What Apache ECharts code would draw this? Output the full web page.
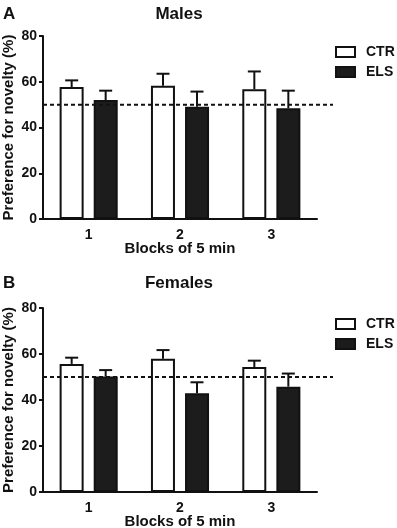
<!DOCTYPE html>
<html><head><meta charset="utf-8">
<script src="https://cdn.jsdelivr.net/npm/echarts@6/dist/echarts.min.js"></script>
<style>html,body{margin:0;padding:0;background:#fff}#c{width:397px;height:528px}</style>
</head><body><div id="c"></div>
<script>
const categories = ['1', '2', '3'];
const yTicks = [0, 20, 40, 60, 80];
const chanceLevel = 50;
// Panel A - Males
const malesCTR = [57.7, 58.3, 56.7];
const malesCTRErr = [2.9, 5.2, 7.8];
const malesELS = [52.0, 49.1, 48.4];
const malesELSErr = [4.1, 6.6, 7.7];
// Panel B - Females
const femalesCTR = [55.7, 57.9, 54.3];
const femalesCTRErr = [2.7, 3.8, 2.8];
const femalesELS = [50.2, 42.9, 45.8];
const femalesELSErr = [2.8, 4.8, 5.7];

const FONT = 'Liberation Sans, Arial, sans-serif';
const chart = echarts.init(document.getElementById('c'), null, {renderer: 'canvas'});

const panels = [
  {top: 36, bottom: 309, title: 'Males', letter: 'A', titleTop: 1, ctr: malesCTR, ctrErr: malesCTRErr, els: malesELS, elsErr: malesELSErr},
  {top: 308, bottom: 36, title: 'Females', letter: 'B', titleTop: 270, ctr: femalesCTR, ctrErr: femalesCTRErr, els: femalesELS, elsErr: femalesELSErr}
];

const grid = [], xAxis = [], yAxis = [], series = [], title = [], legend = [];
const BAR_W = 24, OFFSET = 17;

function errSeries(gi, vals, errs, dir) {
  return {
    type: 'custom', xAxisIndex: gi, yAxisIndex: gi, z: 1, silent: true,
    data: vals.map((v, i) => [i, v, v + errs[i]]),
    renderItem: function (params, api) {
      const base = api.coord([api.value(0), api.value(1)]);
      const top = api.coord([api.value(0), api.value(2)]);
      const x = base[0] + dir * OFFSET;
      return {type: 'group', children: [
        {type: 'line', shape: {x1: x, y1: base[1], x2: x, y2: top[1]}, style: {stroke: '#111', lineWidth: 2}},
        {type: 'line', shape: {x1: x - 6.5, y1: top[1], x2: x + 6.5, y2: top[1]}, style: {stroke: '#111', lineWidth: 2}}
      ]};
    }
  };
}

panels.forEach((p, k) => {
  const gi = k * 2;
  grid.push({left: 43, right: 80, top: p.top, bottom: p.bottom, containLabel: false, outerBoundsMode: 'none'});
  grid.push({left: 43, right: 64, top: p.top, bottom: p.bottom, containLabel: false, outerBoundsMode: 'none'});
  xAxis.push({
    type: 'category', gridIndex: gi, data: categories,
    axisLine: {lineStyle: {color: '#111', width: 2}},
    axisTick: {show: false},
    axisLabel: {color: '#111', fontFamily: FONT, fontWeight: 'bold', fontSize: 14, margin: 9},
    name: 'Blocks of 5 min', nameLocation: 'middle', nameGap: 22, nameMoveOverlap: false,
    nameTextStyle: {color: '#111', fontFamily: FONT, fontWeight: 'bold', fontSize: 15}
  });
  xAxis.push({type: 'value', gridIndex: gi + 1, min: 0, max: 1, show: false});
  yAxis.push({
    type: 'value', gridIndex: gi, min: yTicks[0], max: yTicks[yTicks.length - 1], interval: 20,
    axisLine: {show: true, lineStyle: {color: '#111', width: 2}},
    axisTick: {show: true, length: 4, lineStyle: {color: '#111', width: 2}},
    splitLine: {show: false},
    axisLabel: {color: '#111', fontFamily: FONT, fontWeight: 'bold', fontSize: 14, margin: 6},
    name: 'Preference for novelty (%)', nameLocation: 'middle', nameGap: 27, nameMoveOverlap: false,
    nameTextStyle: {color: '#111', fontFamily: FONT, fontWeight: 'bold', fontSize: 15}
  });
  yAxis.push({type: 'value', gridIndex: gi + 1, min: 0, max: 80, show: false});

  series.push({
    name: 'CTR', type: 'bar', xAxisIndex: gi, yAxisIndex: gi, data: p.ctr, z: 2,
    barWidth: BAR_W, barGap: '42%',
    itemStyle: {color: '#fff', borderColor: '#111', borderWidth: 2}
  });
  series.push({
    name: 'ELS', type: 'bar', xAxisIndex: gi, yAxisIndex: gi, data: p.els, z: 2,
    barWidth: BAR_W, barGap: '42%',
    itemStyle: {color: '#1c1c1c', borderColor: '#111', borderWidth: 2}
  });
  series.push(errSeries(gi, p.ctr, p.ctrErr, -1));
  series.push(errSeries(gi, p.els, p.elsErr, 1));
  series.push({
    type: 'line', xAxisIndex: gi + 1, yAxisIndex: gi + 1, z: 5, silent: true, symbol: 'none',
    data: [[0, chanceLevel], [1, chanceLevel]],
    lineStyle: {color: '#111', width: 2, type: [4, 3]}
  });

  title.push({text: p.title, left: 174, textAlign: 'center', top: p.titleTop,
    textStyle: {fontFamily: FONT, fontWeight: 'bold', fontSize: 17, color: '#111'}});
  title.push({text: p.letter, left: -2, top: p.titleTop,
    textStyle: {fontFamily: FONT, fontWeight: 'bold', fontSize: 17, color: '#111'}});

  legend.push({
    data: ['CTR', 'ELS'], orient: 'vertical', left: 335, top: p.top + 9, padding: 0,
    itemWidth: 19, itemHeight: 10, itemGap: 6, icon: 'rect', selectedMode: false,
    itemStyle: {borderColor: '#111', borderWidth: 2},
    textStyle: {fontFamily: FONT, fontWeight: 'bold', fontSize: 14, color: '#111', padding: [0, 0, 0, 6]}
  });
});

chart.setOption({
  animation: false, backgroundColor: '#fff',
  title, legend, grid, xAxis, yAxis, series
});
</script>
</body></html>
